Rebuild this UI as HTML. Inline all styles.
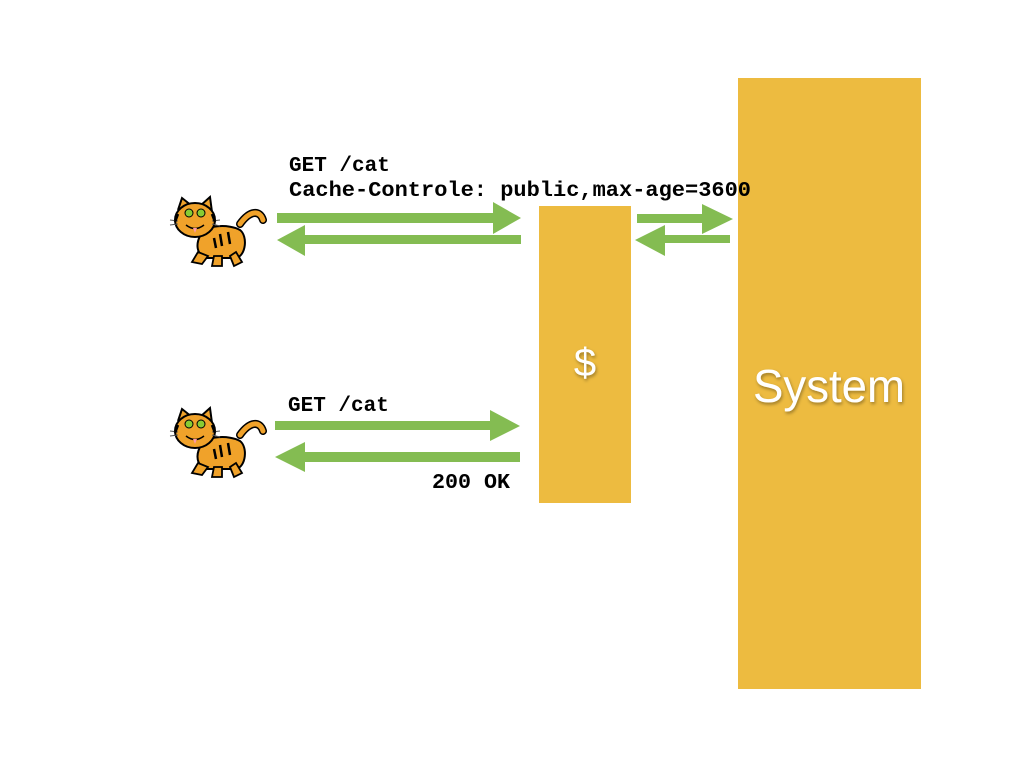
<!DOCTYPE html>
<html><head><meta charset="utf-8"><style>
html,body{margin:0;padding:0;background:#fff;}
svg{display:block;}
.m{font-family:"Liberation Mono",monospace;font-weight:bold;font-size:21px;fill:#000;}
</style></head><body>
<svg width="1024" height="768" viewBox="0 0 1024 768" xmlns="http://www.w3.org/2000/svg">
<defs>
<filter id="sh" x="-20%" y="-20%" width="140%" height="140%"><feDropShadow dx="1" dy="2" stdDeviation="1.5" flood-color="#000" flood-opacity="0.35"/></filter>
<g id="cat">
  <path d="M70 26 C80 12 90 12 93 22" fill="none" stroke="#000" stroke-width="8" stroke-linecap="round"/>
  <path d="M70 26 C80 12 90 12 93 22" fill="none" stroke="#f0a22a" stroke-width="5" stroke-linecap="round"/>
  <path d="M30 38 C34 26 60 26 70 32 C78 38 76 58 66 60 L36 60 C26 56 26 46 30 38Z" fill="#f0a22a" stroke="#000" stroke-width="2"/>
  <path d="M28 54 L22 64 L32 66 L38 58Z M60 58 L64 68 L72 64 L66 54Z M44 58 L42 68 L52 68 L52 58Z" fill="#f0a22a" stroke="#000" stroke-width="1.8"/>
  <path d="M8 12 L12 0 L22 8 M30 8 L40 -1 L42 14" fill="#f0a22a" stroke="#000" stroke-width="2"/>
  <ellipse cx="25" cy="22" rx="20" ry="17" fill="#f0a22a" stroke="#000" stroke-width="2"/>
  <circle cx="19" cy="15" r="4" fill="#8c3" stroke="#000" stroke-width="1"/>
  <circle cx="31" cy="15" r="4" fill="#8c3" stroke="#000" stroke-width="1"/>
  <path d="M16 27 Q25 34 34 27" fill="none" stroke="#000" stroke-width="1.5"/>
  <path d="M23 30 L25 35 L27 30Z" fill="#f9a"/>
  <path d="M0 22 L8 23 M0 27 L8 26 M42 23 L50 22 M42 26 L50 28" stroke="#555" stroke-width="1"/>
  <path d="M50 36 L52 48 M58 34 L60 46 M44 40 L46 50 M8 16 L5 24 M42 16 L45 24" stroke="#000" stroke-width="2.5"/>
</g>
</defs>
<rect x="539" y="206" width="92" height="297" fill="#edbb40"/>
<rect x="738" y="78" width="183" height="611" fill="#edbb40"/>
<g fill="#84bc52">
  <polygon points="277,213 493,213 493,202 521,218 493,234 493,223 277,223"/>
  <polygon points="521,235 305,235 305,225 277,240 305,256 305,244 521,244"/>
  <polygon points="637,214 702,214 702,204 733,219 702,234 702,223 637,223"/>
  <polygon points="730,235 665,235 665,225 635,240 665,256 665,243 730,243"/>
  <polygon points="275,421 490,421 490,410 520,426 490,441 490,430 275,430"/>
  <polygon points="520,452 305,452 305,442 275,457 305,472 305,462 520,462"/>
</g>
<use href="#cat" x="170" y="198"/>
<use href="#cat" x="170" y="409"/>
<text class="m" x="289" y="171">GET /cat</text>
<text class="m" x="289" y="196" textLength="462" lengthAdjust="spacingAndGlyphs">Cache-Controle: public,max-age=3600</text>
<text class="m" x="288" y="411">GET /cat</text>
<text class="m" x="432" y="488" textLength="78" lengthAdjust="spacingAndGlyphs">200 OK</text>
<text x="585" y="376" text-anchor="middle" fill="#fff" filter="url(#sh)" font-family="Liberation Sans, sans-serif" font-size="40">$</text>
<text x="829" y="402" text-anchor="middle" fill="#fff" filter="url(#sh)" font-family="Liberation Sans, sans-serif" font-size="46" textLength="152" lengthAdjust="spacingAndGlyphs">System</text>
</svg>
</body></html>
